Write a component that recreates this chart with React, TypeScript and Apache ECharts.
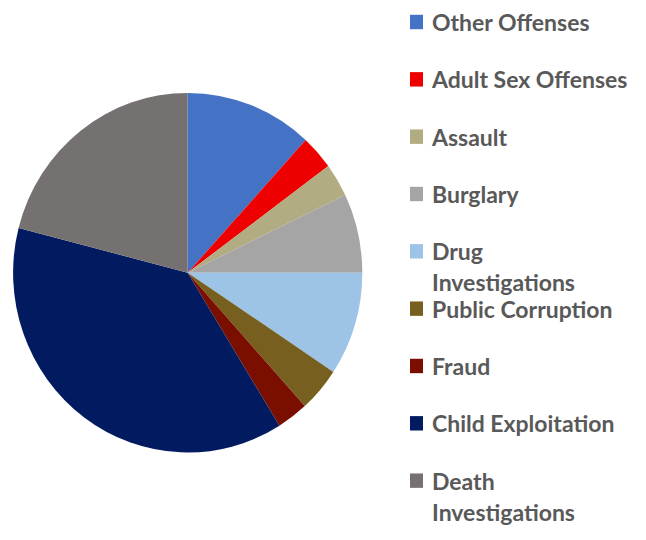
import React, { useEffect, useRef } from "react";
import * as echarts from "echarts";

const categories = [
  "Other Offenses",
  "Adult Sex Offenses",
  "Assault",
  "Burglary",
  "Drug Investigations",
  "Public Corruption",
  "Fraud",
  "Child Exploitation",
  "Death Investigations",
];
const values = [11.8, 3.1, 3.0, 7.1, 9.3, 4.0, 2.9, 37.8, 21.0];
const colors = [
  "#4472C4",
  "#EE0000",
  "#B2AC82",
  "#A5A5A5",
  "#9DC3E6",
  "#775F1F",
  "#7A0F00",
  "#021A60",
  "#767171",
];
const wrapped = [false, false, false, false, true, false, false, false, true];

const SCALE_Y = 1.0298;
const CY = 272.7;

export default function App() {
  const ref = useRef<HTMLDivElement>(null);
  useEffect(() => {
    if (!ref.current) return;
    const chart = echarts.init(ref.current, null, { renderer: "svg" });
    const lineH = 30;
    const legends = categories.map((name, i) => {
      const target = 22 + i * 57.33;
      const center = CY + (target - CY) / SCALE_Y;
      return {
        orient: "vertical",
        left: 410,
        top: center - (wrapped[i] ? 45 : 15),
        padding: 0,
        itemWidth: 13,
        itemHeight: 14,
        icon: "rect",
        selectedMode: false,
        formatter: (n: string) => (wrapped[i] ? "\n" + n.replace(" ", "\n") : n),
        textStyle: {
          fontFamily: "Lato",
          fontWeight: "bold",
          fontSize: 23,
          color: "#595959",
          lineHeight: lineH,
          padding: [0, 0, 0, 4],
        },
        data: [name],
      };
    });
    chart.setOption({
      animation: false,
      legend: legends,
      series: [
        {
          type: "pie",
          center: [187.7, CY],
          radius: 174.6,
          startAngle: 90,
          clockwise: true,
          label: { show: false },
          labelLine: { show: false },
          emphasis: { disabled: true },
          itemStyle: { borderWidth: 0 },
          data: categories.map((name, i) => ({
            name,
            value: values[i],
            itemStyle: { color: colors[i] },
          })),
        },
      ],
    });
    return () => chart.dispose();
  }, []);
  return (
    <div
      ref={ref}
      style={{
        position: "absolute",
        left: 0,
        top: 0,
        width: 646,
        height: 540,
        background: "#fff",
        transform: `scaleY(${SCALE_Y})`,
        transformOrigin: `0 ${CY}px`,
      }}
    />
  );
}
